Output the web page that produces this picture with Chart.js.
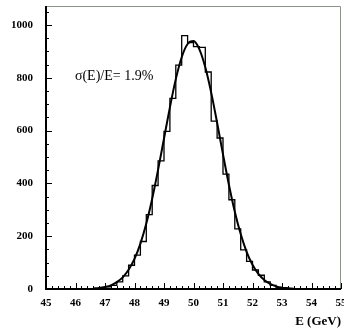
<!DOCTYPE html>
<html>
<head>
<meta charset="utf-8">
<script src="https://cdn.jsdelivr.net/npm/chart.js@4/dist/chart.umd.min.js"></script>
<style>
    html, body {margin: 0; padding: 0; background: #fff;}
    #wrap {width: 344px; height: 332px;}
</style>
</head>
<body>
<div id="wrap"><canvas id="energyChart"></canvas></div>
<script>
// histogram: 0.2 GeV bins from 45 to 55
const binStart = 45;
const binWidth = 0.2;
const counts = [
    0, 0, 0, 0, 0, 0, 0, 0, 1, 3,
    8, 14, 27, 50, 90, 128, 180, 282, 392, 485,
    597, 722, 848, 960, 933, 918, 915, 822, 636, 572,
    435, 338, 228, 148, 105, 72, 52, 27, 14, 6,
    3, 1, 0, 0, 0, 0, 0, 0, 0, 0
];

// gaussian fit
const fitE = [46.6, 46.8, 47.0, 47.2, 47.4, 47.6, 47.8, 48.0, 48.2, 48.4, 48.6, 48.8, 49.0, 49.2, 49.4, 49.6, 49.8, 50.0,
    50.2, 50.4, 50.6, 50.8, 51.0, 51.2, 51.4, 51.6, 51.8, 52.0, 52.2, 52.4, 52.6, 52.8, 53.0, 53.2, 53.4];
const fitN = [2, 4, 8, 14, 26, 44, 73, 114, 172, 248, 342, 452, 570, 688, 795, 878, 928, 939,
    908, 840, 744, 630, 510, 395, 293, 208, 141, 92, 57, 34, 19, 10, 5, 3, 1];

const resolutionText = 'σ(E)/E= 1.9%';
const xTitle = 'E (GeV)';

const histPoints = counts.map((c, i) => ({x: binStart + i * binWidth, y: c}));
histPoints.push({x: binStart + counts.length * binWidth, y: 0});
const fitPoints = fitE.map((e, i) => ({x: e, y: fitN[i]}));

const serif = "'Liberation Serif', 'DejaVu Serif', serif";

const framePlugin = {
    id: 'frame',
    afterDatasetsDraw(chart) {
        const {ctx, chartArea: a, scales: {x, y}} = chart;
        ctx.save();
        // thin top / right frame
        ctx.lineWidth = 1;
        ctx.strokeStyle = '#8c9488';
        ctx.beginPath();
        ctx.moveTo(a.left, a.top + 0.5);
        ctx.lineTo(a.right - 0.5, a.top + 0.5);
        ctx.lineTo(a.right - 0.5, a.bottom);
        ctx.stroke();

        // inward ticks
        ctx.strokeStyle = '#000';
        ctx.lineWidth = 1;
        ctx.beginPath();
        for (let v = 0; v <= 1050; v += 50) {
            const py = Math.round(y.getPixelForValue(v)) + 0.5;
            const len = v % 200 === 0 ? 6 : 3;
            ctx.moveTo(a.left, py);
            ctx.lineTo(a.left + len, py);
        }
        for (let k = 0; k <= 50; k++) {
            const px = Math.round(x.getPixelForValue(45 + k * 0.2)) + 0.5;
            const len = k % 5 === 0 ? 6 : 3;
            ctx.moveTo(px, a.bottom);
            ctx.lineTo(px, a.bottom - len);
        }
        ctx.stroke();

        // heavy axes
        ctx.lineWidth = 2;
        ctx.beginPath();
        ctx.moveTo(a.left, a.top);
        ctx.lineTo(a.left, a.bottom);
        ctx.lineTo(a.right, a.bottom);
        ctx.stroke();

        // resolution label
        ctx.fillStyle = '#000';
        ctx.font = '14px ' + serif;
        ctx.textAlign = 'left';
        ctx.textBaseline = 'middle';
        ctx.fillText(resolutionText, x.getPixelForValue(45.98), y.getPixelForValue(805));
        ctx.restore();
    }
};

new Chart(document.getElementById('energyChart'), {
    type: 'line',
    data: {
        datasets: [
            {
                label: 'Histogram',
                data: histPoints,
                stepped: 'before',
                borderColor: '#000',
                borderWidth: 1.3,
                pointRadius: 0,
                fill: false
            },
            {
                label: 'Fit',
                data: fitPoints,
                borderColor: '#000',
                borderWidth: 2,
                pointRadius: 0,
                cubicInterpolationMode: 'monotone',
                fill: false
            }
        ]
    },
    plugins: [framePlugin],
    options: {
        responsive: true,
        maintainAspectRatio: false,
        animation: false,
        layout: {padding: {top: 6, right: 3, left: 0, bottom: 0}},
        plugins: {
            legend: {display: false},
            tooltip: {enabled: false}
        },
        scales: {
            x: {
                type: 'linear',
                min: 45,
                max: 55,
                afterFit: s => {
                    s.height = 43;
                    s.paddingLeft = 0;
                    s.paddingRight = 0;
                },
                grid: {display: false, drawTicks: false},
                border: {display: false},
                ticks: {
                    stepSize: 1,
                    padding: 8,
                    maxRotation: 0,
                    color: '#000',
                    font: {family: serif, size: 11, weight: 'bold'}
                },
                title: {
                    display: true,
                    text: xTitle,
                    align: 'end',
                    color: '#000',
                    padding: {top: 0, bottom: 3},
                    font: {family: serif, size: 13, weight: 'bold'}
                }
            },
            y: {
                type: 'linear',
                min: 0,
                max: 1072,
                afterFit: s => {
                    s.width = 46;
                    s.paddingTop = 0;
                    s.paddingBottom = 0;
                },
                grid: {display: false, drawTicks: false},
                border: {display: false},
                ticks: {
                    stepSize: 200,
                    includeBounds: false,
                    padding: 13,
                    color: '#000',
                    font: {family: serif, size: 11, weight: 'bold'},
                    callback: v => String(v)
                }
            }
        }
    }
});
</script>
</body>
</html>
